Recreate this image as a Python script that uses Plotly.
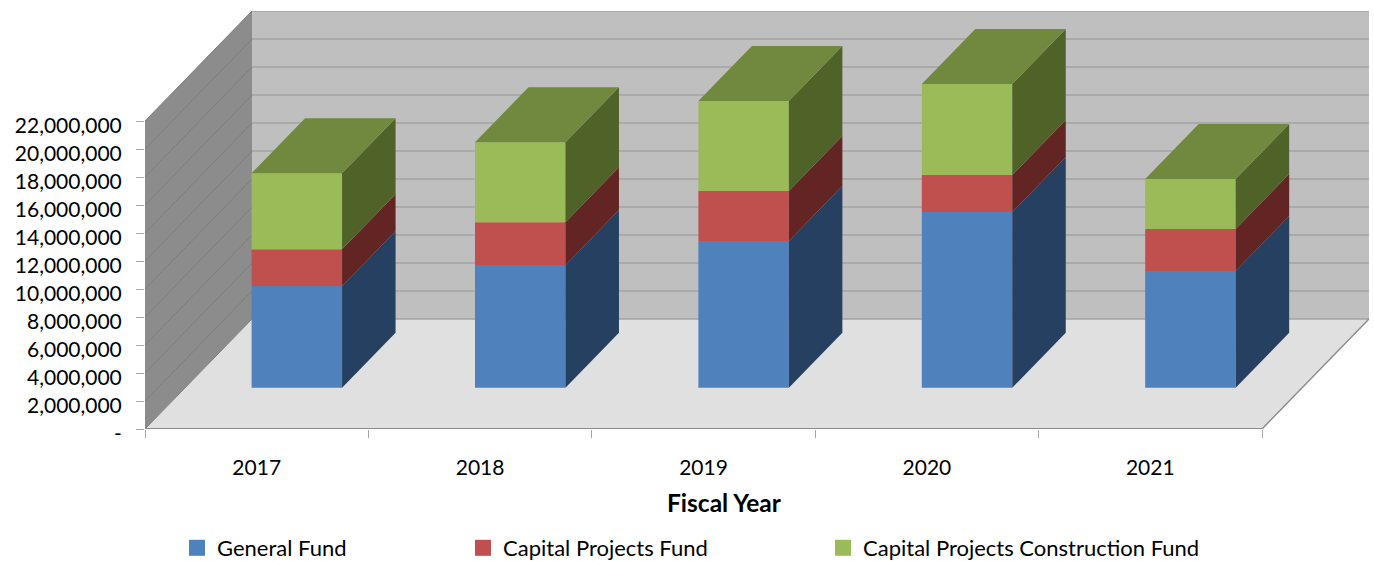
import numpy as np
import plotly.graph_objects as go

# ---- data ----
years = ["2017", "2018", "2019", "2020", "2021"]
general_fund = [7260000, 8760000, 10480000, 12550000, 8340000]
capital_projects = [2640000, 3070000, 3570000, 2640000, 3000000]
capital_construction = [5430000, 5710000, 6430000, 6500000, 3570000]
y_ticks = list(range(0, 22000001, 2000000))
y_labels = ["-"] + [f"{v:,}" for v in y_ticks[1:]]
series = [
    ("General Fund", general_fund, "#4F81BD", "#254061"),
    ("Capital Projects Fund", capital_projects, "#C0504D", "#632523"),
    ("Capital Projects Construction Fund", capital_construction, "#9BBB59", "#4F6228"),
]
TOP_FACE = "#71893F"

# ---- pseudo-3D geometry (oblique projection in axis units) ----
W, H = 1374, 561
L, R, T, B = 145, 1369, 11, 429
PX_CAT = 223.4
PX_VAL = 14 / 1e6
DX = 107 / PX_CAT            # full depth in category units
DY = 110 / PX_VAL            # full depth in value units
D0, D1 = 0.375, 0.875        # bar front / back depth
BAR_W = 0.405
FONT = "Lato"
TXT = "#000000"
n = len(years)
xmin, xmax = -0.5, -0.5 + (R - L) / PX_CAT
xfront = n - 0.5
ymax = (B - T) / PX_VAL
top = y_ticks[-1]

def poly(points):
    return "M" + "L".join(f"{x},{y}" for x, y in points) + "Z"

shapes = []
def add_poly(points, fill):
    shapes.append(dict(type="path", path=poly(points), xref="x", yref="y",
                       fillcolor=fill, line=dict(width=0), layer="below"))
def add_line(p, q, color, width):
    shapes.append(dict(type="line", x0=p[0], y0=p[1], x1=q[0], y1=q[1], xref="x", yref="y",
                       line=dict(color=color, width=width), layer="below"))

# walls and floor
add_poly([(-0.5 + DX, DY), (xfront + DX, DY), (xfront + DX, top + DY), (-0.5 + DX, top + DY)], "#BFBFBF")
add_poly([(-0.5, 0), (-0.5 + DX, DY), (-0.5 + DX, top + DY), (-0.5, top)], "#8C8C8C")
add_poly([(-0.5, 0), (xfront, 0), (xfront + DX, DY), (-0.5 + DX, DY)], "#E0E0E0")
for v in y_ticks:
    add_line((-0.5, v), (-0.5 + DX, v + DY), "#7D7D7D", 1)
    add_line((-0.5 + DX, v + DY), (xfront + DX, v + DY), "#A3A3A3", 1.5)
add_line((-0.5, 0), (xfront, 0), "#8C8C8C", 2)
add_line((xfront, 0), (xfront + DX, DY), "#8C8C8C", 1.5)

fig = go.Figure()
x_idx = np.arange(n, dtype=float)
base = np.full(n, D0 * DY)
x_front_bar = x_idx + D0 * DX

for name, vals, col, side in series:
    vals = np.array(vals, dtype=float)
    fig.add_trace(go.Bar(x=x_front_bar, y=vals, base=base, width=BAR_W, marker=dict(color=col, line=dict(width=0)),
                         name=name, showlegend=False, hoverinfo="name+y"))
    dep = (D1 - D0)
    for i in range(n):
        xr = x_front_bar[i] + BAR_W / 2
        y0, y1 = base[i], base[i] + vals[i]
        fig.add_trace(go.Scatter(
            x=[xr, xr + dep * DX, xr + dep * DX, xr, xr],
            y=[y0, y0 + dep * DY, y1 + dep * DY, y1, y0],
            mode="lines", fill="toself", fillcolor=side, line=dict(width=0),
            showlegend=False, hoverinfo="skip"))
    base = base + vals

for i in range(n):
    xl = x_front_bar[i] - BAR_W / 2
    xr = x_front_bar[i] + BAR_W / 2
    dep = (D1 - D0)
    y1 = base[i]
    fig.add_trace(go.Scatter(
        x=[xl, xr, xr + dep * DX, xl + dep * DX, xl],
        y=[y1, y1, y1 + dep * DY, y1 + dep * DY, y1],
        mode="lines", fill="toself", fillcolor=TOP_FACE, line=dict(width=0),
        showlegend=False, hoverinfo="skip"))

# legend entries, each in its own legend so they can sit at different spacings
legend_ids = ["legend", "legend2", "legend3"]
legend_px = [177, 463, 823]
for (name, vals, col, side), lid in zip(series, legend_ids):
    fig.add_trace(go.Scatter(x=[None], y=[None], mode="markers", name=name, legend=lid,
                             marker=dict(symbol="square", size=16, color=col, line=dict(width=0))))

layout = dict(
    width=W, height=H, autosize=False,
    margin=dict(l=L, r=W - R, t=T, b=H - B, autoexpand=False),
    paper_bgcolor="white", plot_bgcolor="white",
    barmode="overlay", showlegend=True,
    font=dict(family=FONT, size=21, color=TXT),
    shapes=shapes,
    xaxis=dict(range=[xmin, xmax], showgrid=False, zeroline=False, showline=False,
               tickmode="array", tickvals=list(range(n)), ticktext=years,
               ticks="outside", ticklen=0, ticklabelstandoff=20,
               tickfont=dict(family=FONT, size=21, color=TXT),
               minor=dict(tickmode="array", tickvals=[i - 0.5 for i in range(n + 1)],
                          ticks="outside", ticklen=8, tickcolor="#A6A6A6", tickwidth=1, showgrid=False)),
    yaxis=dict(range=[0, ymax], showgrid=False, zeroline=False, showline=False,
               tickmode="array", tickvals=y_ticks, ticktext=y_labels,
               ticks="outside", ticklen=8, tickcolor="#A6A6A6", tickwidth=1,
               ticklabelstandoff=10, ticklabelshift=5,
               tickfont=dict(family=FONT, size=21, color=TXT)),
    annotations=[dict(text="<b>Fiscal Year</b>", xref="paper", yref="paper",
                      x=(724.5 - L) / (R - L), y=(B - 502) / (B - T), xanchor="center", yanchor="middle",
                      showarrow=False, font=dict(family=FONT, size=24.5, color=TXT))],
)
for lid, px in zip(legend_ids, legend_px):
    layout[lid] = dict(xref="container", yref="container", x=px / W, y=1 - 548 / H,
                       xanchor="left", yanchor="middle", orientation="v",
                       bgcolor="rgba(0,0,0,0)", borderwidth=0,
                       font=dict(family=FONT, size=22, color=TXT))
fig.update_layout(**layout)
fig.write_html("out.html", post_script="document.body.style.margin='0';",
               config={"displayModeBar": False})
